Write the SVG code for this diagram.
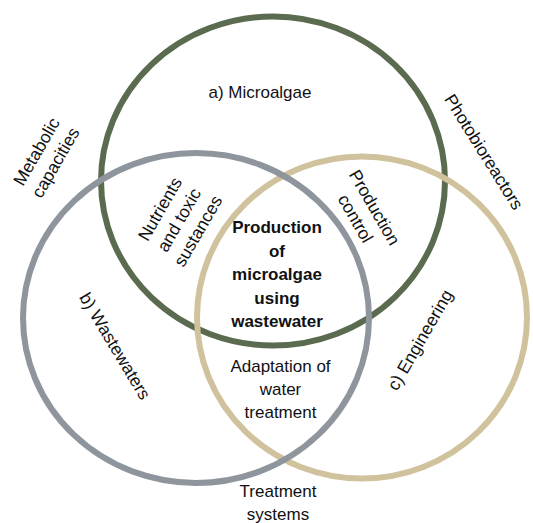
<svg xmlns="http://www.w3.org/2000/svg" width="533" height="523" viewBox="0 0 533 523">
<style>
.c{fill:none;stroke-width:6}
.t{font-family:"Liberation Sans",Arial,sans-serif;font-size:17px;fill:#111;text-anchor:middle}
.r{font-size:17.5px}
.b{font-weight:bold}
</style>
<rect width="533" height="523" fill="#fff"/>
<g id="circle-microalgae"><ellipse class="c" cx="273" cy="181" rx="172" ry="164.5" stroke="#5b6b4f"/></g>
<g id="circle-engineering"><ellipse class="c" cx="362" cy="317.5" rx="165" ry="161" stroke="#d0c29d"/></g>
<g id="circle-wastewaters"><ellipse class="c" cx="196" cy="318" rx="173" ry="165" stroke="#8f959d"/></g>
<g id="connectors"></g>
<g id="labels">
<text class="t" x="260" y="98">a) Microalgae</text>
<g transform="translate(46,157) rotate(-60)"><text class="t r" x="0" y="-5">Metabolic</text><text class="t r" x="0" y="17">capacities</text></g>
<g transform="translate(484,152) rotate(58)"><text class="t r" x="0" y="6">Photobioreactors</text></g>
<g transform="translate(179,220) rotate(-60)"><text class="t r" x="0" y="-16">Nutrients</text><text class="t r" x="0" y="6">and toxic</text><text class="t r" x="0" y="28">sustances</text></g>
<g transform="translate(365,213) rotate(60)"><text class="t r" x="0" y="-5">Production</text><text class="t r" x="0" y="17">control</text></g>
<text class="t b" x="277" y="233">Production</text>
<text class="t b" x="277" y="256.5">of</text>
<text class="t b" x="277" y="280">microalgae</text>
<text class="t b" x="277" y="303.5">using</text>
<text class="t b" x="277" y="327">wastewater</text>
<g transform="translate(115,346) rotate(59)"><text class="t r" x="0" y="6">b) Wastewaters</text></g>
<g transform="translate(420,340) rotate(-60)"><text class="t r" x="0" y="6">c) Engineering</text></g>
<text class="t" x="280.5" y="372">Adaptation of</text>
<text class="t" x="280.5" y="395">water</text>
<text class="t" x="280.5" y="418">treatment</text>
<text class="t" x="278" y="497">Treatment</text>
<text class="t" x="278" y="520">systems</text>
</g>
</svg>
